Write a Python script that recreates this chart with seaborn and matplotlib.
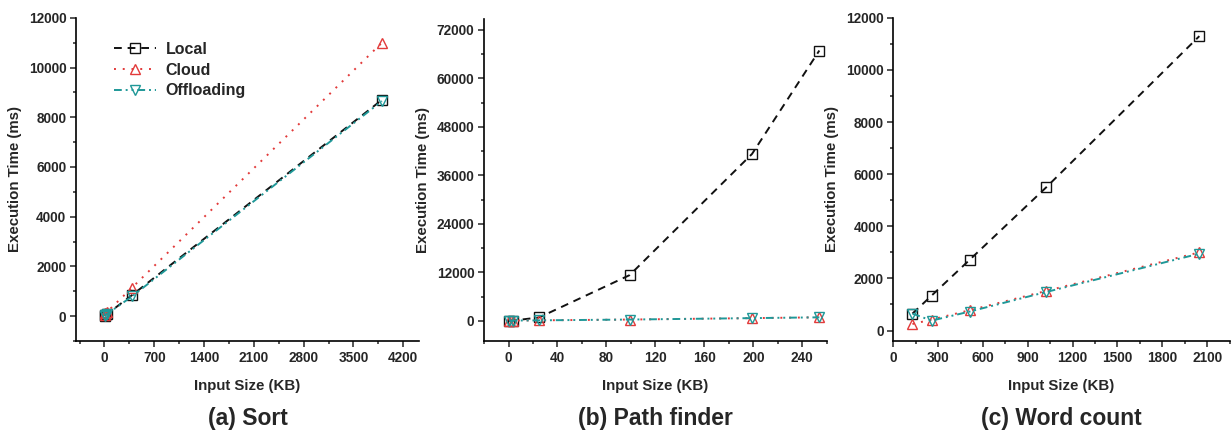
import pandas as pd
import seaborn as sns
import matplotlib.pyplot as plt
from matplotlib.ticker import MultipleLocator

# (a) sort
sort_kb = [1, 10, 40, 390, 3900]
sort_local = [10, 40, 90, 850, 8700]
sort_cloud = [60, 120, 180, 1150, 11000]
sort_offload = [10, 40, 90, 800, 8650]

# (b) path finder
path_kb = [0.5, 4, 25, 99, 199, 254]
path_local = [0, 60, 820, 11300, 41300, 66900]
path_cloud = [0, 50, 100, 300, 650, 850]
path_offload = [0, 50, 100, 300, 650, 850]

# (c) word count
word_kb = [128, 256, 512, 1024, 2048]
word_local = [650, 1340, 2720, 5500, 11300]
word_cloud = [250, 420, 780, 1520, 3000]
word_offload = [650, 380, 730, 1480, 2950]

series = ["Local", "Cloud", "Offloading"]
palette = {"Local": "#111111", "Cloud": "#e23a3a", "Offloading": "#1f9898"}
markers = {"Local": "s", "Cloud": "^", "Offloading": "v"}
dashes = {"Local": (4, 3), "Cloud": (1, 3.5), "Offloading": (4, 2, 1, 2, 1, 2)}


def make_frame(x, local, cloud, offload):
    rows = []
    for name, vals in zip(series, [local, cloud, offload]):
        for xi, yi in zip(x, vals):
            rows.append({"size": xi, "time": yi, "mode": name})
    return pd.DataFrame(rows)


sns.set_theme(style="ticks")
plt.rcParams["font.family"] = ["Liberation Sans", "DejaVu Sans"]
plt.rcParams["font.weight"] = "bold"
plt.rcParams["axes.labelweight"] = "bold"

fig = plt.figure(figsize=(12.32, 4.36), dpi=100)
boxes = [
    [0.0617, 0.218, 0.2783, 0.741],
    [0.3929, 0.218, 0.2781, 0.7384],
    [0.7251, 0.218, 0.2729, 0.741],
]

panels = [
    (make_frame(sort_kb, sort_local, sort_cloud, sort_offload),
     (-400, 4420), (-1000, 12000), 700, 2000, "(a) Sort"),
    (make_frame(path_kb, path_local, path_cloud, path_offload),
     (-20, 260), (-5000, 74700), 40, 12000, "(b) Path finder"),
    (make_frame(word_kb, word_local, word_cloud, word_offload),
     (0, 2250), (-400, 12000), 300, 2000, "(c) Word count"),
]

for i, (df, xlim, ylim, xstep, ystep, title) in enumerate(panels):
    ax = fig.add_axes(boxes[i])
    sns.lineplot(data=df, x="size", y="time", hue="mode", style="mode",
                 hue_order=series, style_order=series, palette=palette,
                 markers=markers, dashes=dashes, markersize=7.5,
                 linewidth=1.4, legend=False, ax=ax)
    # open markers like the original
    for line in ax.lines:
        line.set_markerfacecolor("none")
        line.set_markeredgecolor(line.get_color())
        line.set_markeredgewidth(1.0)

    ax.set_xlim(*xlim)
    ax.set_ylim(*ylim)
    ax.xaxis.set_major_locator(MultipleLocator(xstep))
    ax.xaxis.set_minor_locator(MultipleLocator(xstep / 2))
    ax.yaxis.set_major_locator(MultipleLocator(ystep))
    ax.yaxis.set_minor_locator(MultipleLocator(ystep / 2))
    ax.tick_params(which="major", direction="out", length=4, width=1.1,
                   labelsize=9.8, pad=3)
    ax.tick_params(which="minor", direction="out", length=2.5, width=1.1)
    for lab in ax.get_xticklabels() + ax.get_yticklabels():
        lab.set_fontweight("bold")
    sns.despine(ax=ax)
    for sp in ["left", "bottom"]:
        ax.spines[sp].set_linewidth(1.2)
        ax.spines[sp].set_color("black")

    ax.set_xlabel("Input Size (KB)", fontsize=10.8, fontweight="bold", labelpad=10)
    ax.set_ylabel("Execution Time (ms)", fontsize=10.8, fontweight="bold", labelpad=5)
    pos = boxes[i]
    fig.text(pos[0] + pos[2] / 2, 0.04, title, ha="center", va="center",
             fontsize=16.5, fontweight="bold")

    if i == 0:
        leg = ax.legend(handles=ax.lines[:3], labels=series, loc="upper left",
                        bbox_to_anchor=(0.07, 0.97), frameon=False,
                        prop={"size": 11.5, "weight": "bold"},
                        handlelength=2.6, handletextpad=0.6, labelspacing=0.35)

fig.savefig("out.png", dpi=100)
